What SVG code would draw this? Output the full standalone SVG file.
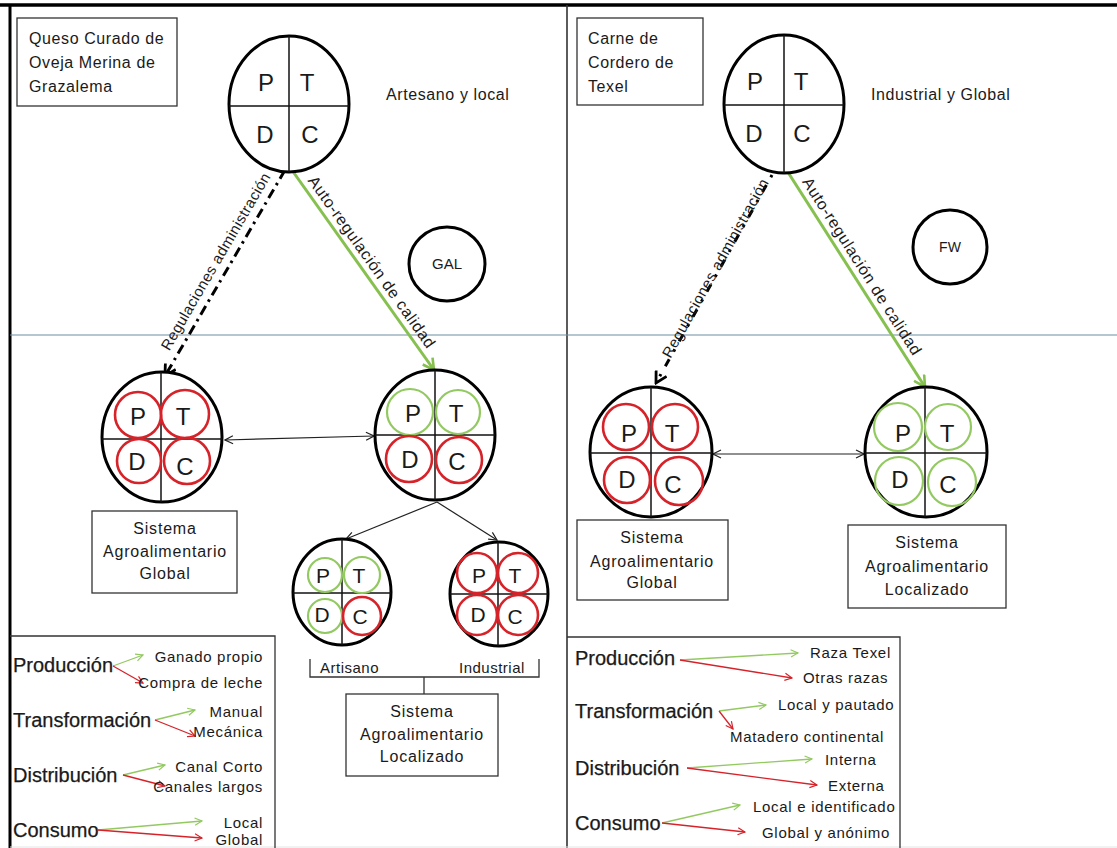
<svg xmlns="http://www.w3.org/2000/svg" width="1117" height="848" viewBox="0 0 1117 848">
<style>
text{font-family:"Liberation Sans",Arial,sans-serif;fill:#1a1a1a}
.lt{font-size:24px;text-anchor:middle}
.ls{font-size:21px;text-anchor:middle}
.lbl{font-size:16px;letter-spacing:0.6px}
.bx{font-size:16px;letter-spacing:0.8px;text-anchor:middle}
.lg{font-size:20px;stroke:#1a1a1a;stroke-width:0.25}
.sub{font-size:15px;letter-spacing:0.7px}
.rot{font-size:15px;letter-spacing:0.4px;text-anchor:middle}
.rot2{font-size:16px;letter-spacing:0.7px;text-anchor:middle}
.box{fill:#fff;stroke:#333;stroke-width:1.3}
.big{fill:#fff;stroke:#000;stroke-width:3}
.q{stroke:#111;stroke-width:1.5}
.red{fill:none;stroke:#d6232a;stroke-width:2.6}
.grn{fill:none;stroke:#93c961;stroke-width:2.2}
.thin{stroke:#222;stroke-width:1.2;fill:none}
.la-g{stroke:#93c961;stroke-width:1.3;fill:none}
.la-r{stroke:#d6232a;stroke-width:1.3;fill:none}
</style>
<defs>
<marker id="ah" viewBox="0 0 10 10" refX="9" refY="5" markerWidth="10" markerHeight="10" markerUnits="userSpaceOnUse" orient="auto-start-reverse"><path d="M1,1 L9,5 L1,9" fill="none" stroke="#222" stroke-width="1.2"/></marker>
<marker id="ag" viewBox="0 0 14 14" refX="12" refY="7" markerWidth="14" markerHeight="14" markerUnits="userSpaceOnUse" orient="auto"><path d="M1,1 L12,7 L1,13" fill="none" stroke="#86c04f" stroke-width="2.6"/></marker>
<marker id="ab" viewBox="0 0 14 14" refX="12" refY="7" markerWidth="14" markerHeight="14" markerUnits="userSpaceOnUse" orient="auto"><path d="M1,1 L12,7 L1,13" fill="none" stroke="#000" stroke-width="2.8"/></marker>
<marker id="sg" viewBox="0 0 10 10" refX="9" refY="5" markerWidth="9" markerHeight="9" markerUnits="userSpaceOnUse" orient="auto"><path d="M1,1 L9,5 L1,9" fill="none" stroke="#93c961" stroke-width="1.3"/></marker>
<marker id="sr" viewBox="0 0 10 10" refX="9" refY="5" markerWidth="9" markerHeight="9" markerUnits="userSpaceOnUse" orient="auto"><path d="M1,1 L9,5 L1,9" fill="none" stroke="#d6232a" stroke-width="1.3"/></marker>
</defs>
<rect width="1117" height="848" fill="#fff"/>
<g id="frame">
<line x1="0" y1="5" x2="1117" y2="5" stroke="#000" stroke-width="3.5"/>
<line x1="10" y1="4" x2="10" y2="848" stroke="#000" stroke-width="3"/>
<line x1="567" y1="5" x2="567" y2="848" stroke="#333" stroke-width="1.6"/>
<line x1="10" y1="335" x2="1117" y2="335" stroke="#6f8ea3" stroke-width="1.1"/>
<line x1="10" y1="847" x2="1117" y2="847" stroke="#e4e4e4" stroke-width="1"/>
</g>
<g id="connectors">
<line x1="285" y1="170" x2="165" y2="376" stroke="#000" stroke-width="3" stroke-dasharray="10 5 2.5 5" marker-end="url(#ab)"/>
<line x1="289" y1="166" x2="434" y2="370" stroke="#86c04f" stroke-width="3" marker-end="url(#ag)"/>
<line x1="772" y1="175" x2="656" y2="383" stroke="#000" stroke-width="3" stroke-dasharray="2.5 9 8 9" marker-end="url(#ab)"/>
<line x1="784" y1="166" x2="925" y2="387" stroke="#86c04f" stroke-width="3" marker-end="url(#ag)"/>
<line class="thin" x1="225" y1="440" x2="374" y2="436" marker-start="url(#ah)" marker-end="url(#ah)"/>
<line class="thin" x1="713" y1="454" x2="864" y2="454" marker-start="url(#ah)" marker-end="url(#ah)"/>
<line class="thin" x1="437" y1="502" x2="346" y2="539" marker-end="url(#ah)"/>
<line class="thin" x1="437" y1="502" x2="497" y2="540" marker-end="url(#ah)"/>
<path d="M310,659 V677 H539 V659 M424,677 V694" fill="none" stroke="#333" stroke-width="1.3"/>
<g transform="translate(221,264.5) rotate(-59.8)"><text class="rot" x="0" y="-1">Regulaciones administración</text></g>
<g transform="translate(365,267) rotate(54.6)"><text class="rot2" x="0" y="-3">Auto-regulación de calidad</text></g>
<g transform="translate(719,270) rotate(-60.8)"><text class="rot" x="0" y="1">Regulaciones administración</text></g>
<g transform="translate(855,271) rotate(57.5)"><text class="rot2" x="0" y="-3">Auto-regulación de calidad</text></g>
</g>
<g id="title-left">
<rect class="box" x="17" y="18" width="160" height="88"/>
<text class="lbl" x="29" y="44">Queso Curado de</text>
<text class="lbl" x="29" y="68">Oveja Merina de</text>
<text class="lbl" x="29" y="92">Grazalema</text>
</g>
<g id="ptdc-top-left">
<ellipse class="big" cx="289" cy="104" rx="60" ry="68"/>
<line class="q" x1="289" y1="36" x2="289" y2="172"/>
<line class="q" x1="229" y1="106" x2="349" y2="106"/>
<text class="lt" x="266" y="91">P</text><text class="lt" x="307" y="91">T</text>
<text class="lt" x="265" y="143">D</text><text class="lt" x="310" y="143">C</text>
</g>
<text class="lbl" x="386" y="100">Artesano y local</text>
<g id="gal">
<ellipse cx="447" cy="264" rx="38" ry="37" fill="#fff" stroke="#000" stroke-width="3"/>
<text x="447" y="269" font-size="15" text-anchor="middle">GAL</text>
</g>
<g id="ptdc-global-left">
<ellipse class="big" cx="162" cy="437" rx="60" ry="65"/>
<line class="q" x1="161" y1="372" x2="161" y2="502"/>
<line class="q" x1="102" y1="439" x2="222" y2="439"/>
<circle class="red" cx="138" cy="415" r="23"/><circle class="red" cx="185" cy="414" r="24"/>
<circle class="red" cx="139" cy="461" r="22"/><circle class="red" cx="187" cy="461" r="23"/>
<text class="lt" x="138" y="425">P</text><text class="lt" x="183" y="425">T</text>
<text class="lt" x="137" y="470">D</text><text class="lt" x="185" y="475">C</text>
</g>
<g id="box-global-left">
<rect class="box" x="92" y="511" width="145" height="82"/>
<text class="bx" x="165" y="534">Sistema</text>
<text class="bx" x="165" y="557">Agroalimentario</text>
<text class="bx" x="165" y="579">Global</text>
</g>
<g id="ptdc-local-left">
<ellipse class="big" cx="435" cy="435" rx="60" ry="65"/>
<line class="q" x1="435" y1="370" x2="435" y2="500"/>
<line class="q" x1="375" y1="435" x2="495" y2="435"/>
<circle class="grn" cx="410" cy="412" r="23"/><circle class="grn" cx="458" cy="412" r="22"/>
<circle class="red" cx="409" cy="459" r="23"/><circle class="red" cx="459" cy="460" r="23"/>
<text class="lt" x="413" y="422">P</text><text class="lt" x="456" y="422">T</text>
<text class="lt" x="410" y="468">D</text><text class="lt" x="457" y="470">C</text>
</g>
<g id="ptdc-artisano">
<ellipse class="big" cx="342" cy="592" rx="49" ry="53"/>
<line class="q" x1="342" y1="539" x2="342" y2="645" stroke="#44546a"/>
<line class="q" x1="293" y1="593" x2="391" y2="593"/>
<circle class="grn" cx="325" cy="575" r="17"/><circle class="grn" cx="362" cy="575" r="18"/>
<circle class="grn" cx="325" cy="616" r="17"/><circle class="red" cx="362" cy="616" r="19"/>
<text class="ls" x="323" y="583">P</text><text class="ls" x="359" y="583">T</text>
<text class="ls" x="322" y="622">D</text><text class="ls" x="360" y="624">C</text>
</g>
<g id="ptdc-industrial">
<ellipse class="big" cx="499" cy="594" rx="49" ry="52"/>
<line class="q" x1="498" y1="542" x2="498" y2="646" stroke="#44546a"/>
<line class="q" x1="450" y1="594" x2="548" y2="594"/>
<circle class="red" cx="477" cy="573" r="20"/><circle class="red" cx="518" cy="573" r="20"/>
<circle class="red" cx="477" cy="615" r="20"/><circle class="red" cx="518" cy="615" r="20"/>
<text class="ls" x="479" y="583">P</text><text class="ls" x="515" y="583">T</text>
<text class="ls" x="478" y="622">D</text><text class="ls" x="515" y="624">C</text>
</g>
<text x="320" y="673" font-size="15" letter-spacing="0.5">Artisano</text>
<text x="459" y="673" font-size="15" letter-spacing="0.5">Industrial</text>
<g id="box-local-left">
<rect class="box" x="346" y="694" width="152" height="82"/>
<text class="bx" x="422" y="717">Sistema</text>
<text class="bx" x="422" y="740">Agroalimentario</text>
<text class="bx" x="422" y="762">Localizado</text>
</g>
<g id="legend-left">
<path d="M10,636 H275 V848" fill="none" stroke="#333" stroke-width="1.3"/>
<text class="lg" x="13" y="672">Producción</text>
<text class="lg" x="13" y="727">Transformación</text>
<text class="lg" x="13" y="782">Distribución</text>
<text class="lg" x="13" y="837">Consumo</text>
<line class="la-g" x1="113" y1="666" x2="143" y2="655" marker-end="url(#sg)"/>
<line class="la-r" x1="113" y1="666" x2="143" y2="683" marker-end="url(#sr)"/>
<line class="la-g" x1="155" y1="720" x2="195" y2="710" marker-end="url(#sg)"/>
<line class="la-r" x1="155" y1="720" x2="195" y2="736" marker-end="url(#sr)"/>
<line class="la-g" x1="123" y1="775" x2="165" y2="765" marker-end="url(#sg)"/>
<line class="la-r" x1="123" y1="775" x2="165" y2="786" marker-end="url(#sr)"/>
<line class="la-g" x1="98" y1="830" x2="202" y2="821" marker-end="url(#sg)"/>
<line class="la-r" x1="98" y1="830" x2="202" y2="838" marker-end="url(#sr)"/>
<g text-anchor="end">
<text class="sub" x="263" y="662">Ganado propio</text>
<text class="sub" x="263" y="688">Compra de leche</text>
<text class="sub" x="263" y="717">Manual</text>
<text class="sub" x="263" y="737">Mecánica</text>
<text class="sub" x="263" y="772">Canal Corto</text>
<text class="sub" x="263" y="792">Canales largos</text>
<text class="sub" x="263" y="828">Local</text>
<text class="sub" x="263" y="845">Global</text>
</g>
</g>
<g id="title-right">
<rect class="box" x="577" y="18" width="126" height="87"/>
<text class="lbl" x="588" y="44">Carne de</text>
<text class="lbl" x="588" y="68">Cordero de</text>
<text class="lbl" x="588" y="92">Texel</text>
</g>
<g id="ptdc-top-right">
<ellipse class="big" cx="784" cy="104" rx="60" ry="69"/>
<line class="q" x1="784" y1="35" x2="784" y2="173"/>
<line class="q" x1="724" y1="105" x2="844" y2="105"/>
<text class="lt" x="755" y="90">P</text><text class="lt" x="801" y="90">T</text>
<text class="lt" x="754" y="142">D</text><text class="lt" x="802" y="142">C</text>
</g>
<text class="lbl" x="871" y="100">Industrial y Global</text>
<g id="fw">
<ellipse cx="950" cy="247" rx="37" ry="37" fill="#fff" stroke="#000" stroke-width="3"/>
<text x="950" y="252" font-size="14" text-anchor="middle">FW</text>
</g>
<g id="ptdc-global-right">
<ellipse class="big" cx="651" cy="452" rx="61" ry="65"/>
<line class="q" x1="651" y1="387" x2="651" y2="517"/>
<line class="q" x1="590" y1="453" x2="712" y2="453"/>
<circle class="red" cx="626" cy="427" r="23"/><circle class="red" cx="675" cy="427" r="23"/>
<circle class="red" cx="627" cy="480" r="23"/><circle class="red" cx="679" cy="481" r="24"/>
<text class="lt" x="629" y="442">P</text><text class="lt" x="672" y="442">T</text>
<text class="lt" x="627" y="488">D</text><text class="lt" x="673" y="493">C</text>
</g>
<g id="box-global-right">
<rect class="box" x="577" y="520" width="151" height="80"/>
<text class="bx" x="652" y="543">Sistema</text>
<text class="bx" x="652" y="567">Agroalimentario</text>
<text class="bx" x="652" y="588">Global</text>
</g>
<g id="ptdc-local-right">
<ellipse class="big" cx="926" cy="452" rx="61" ry="65"/>
<line class="q" x1="925" y1="387" x2="925" y2="517"/>
<line class="q" x1="865" y1="453" x2="987" y2="453"/>
<circle class="grn" cx="898" cy="427" r="24"/><circle class="grn" cx="948" cy="427" r="23"/>
<circle class="grn" cx="899" cy="481" r="24"/><circle class="grn" cx="952" cy="482" r="24"/>
<text class="lt" x="903" y="442">P</text><text class="lt" x="947" y="442">T</text>
<text class="lt" x="900" y="488">D</text><text class="lt" x="948" y="493">C</text>
</g>
<g id="box-local-right">
<rect class="box" x="848" y="525" width="158" height="83"/>
<text class="bx" x="927" y="548">Sistema</text>
<text class="bx" x="927" y="572">Agroalimentario</text>
<text class="bx" x="927" y="595">Localizado</text>
</g>
<g id="legend-right">
<path d="M567,637 H900 V848" fill="none" stroke="#333" stroke-width="1.3"/>
<text class="lg" x="575" y="665">Producción</text>
<text class="lg" x="575" y="718">Transformación</text>
<text class="lg" x="575" y="775">Distribución</text>
<text class="lg" x="575" y="830">Consumo</text>
<line class="la-g" x1="680" y1="660" x2="798" y2="653" marker-end="url(#sg)"/>
<line class="la-r" x1="680" y1="660" x2="792" y2="678" marker-end="url(#sr)"/>
<line class="la-g" x1="719" y1="711" x2="766" y2="705" marker-end="url(#sg)"/>
<line class="la-r" x1="719" y1="711" x2="733" y2="729" marker-end="url(#sr)"/>
<line class="la-g" x1="687" y1="768" x2="812" y2="759" marker-end="url(#sg)"/>
<line class="la-r" x1="687" y1="768" x2="817" y2="785" marker-end="url(#sr)"/>
<line class="la-g" x1="662" y1="823" x2="740" y2="805" marker-end="url(#sg)"/>
<line class="la-r" x1="662" y1="823" x2="745" y2="832" marker-end="url(#sr)"/>
<text class="sub" x="810" y="658">Raza Texel</text>
<text class="sub" x="803" y="683">Otras razas</text>
<text class="sub" x="778" y="710">Local y pautado</text>
<text class="sub" x="730" y="742">Matadero continental</text>
<text class="sub" x="825" y="765">Interna</text>
<text class="sub" x="828" y="791">Externa</text>
<text class="sub" x="753" y="812">Local e identificado</text>
<text class="sub" x="762" y="838">Global y anónimo</text>
</g>
</svg>
